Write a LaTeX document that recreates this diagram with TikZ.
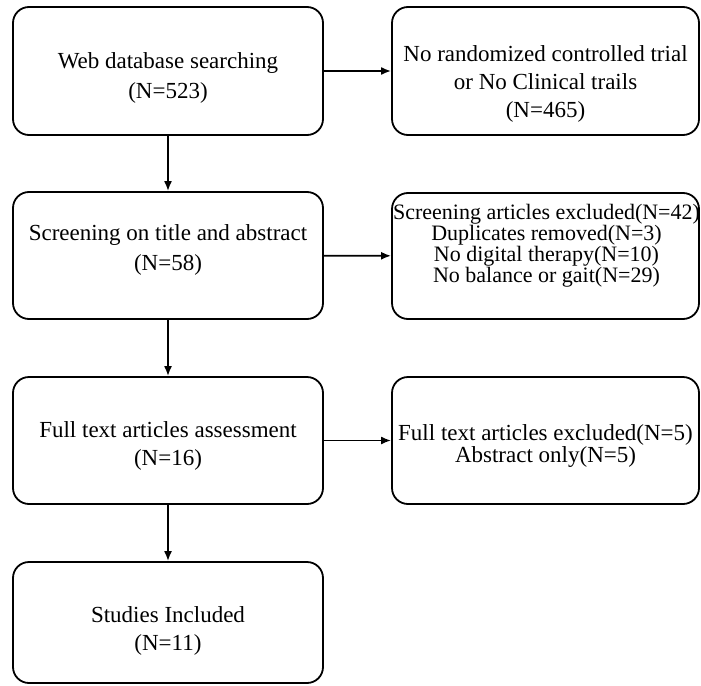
\documentclass[tikz,border=0pt]{standalone}
\usepackage{fontspec}
\setmainfont{Liberation Serif}
\usetikzlibrary{arrows.meta}

\begin{document}
\begin{tikzpicture}[
  x=1pt, y=-1pt,
  box/.style={draw, line width=1.8pt, rounded corners=16pt, inner sep=0pt},
  lbl/.style={align=center, inner sep=0pt, font=\fontsize{23}{28}\selectfont},
  arr/.style={-{Latex[length=10pt,width=8pt]}, line width=1.8pt},
]
\useasboundingbox (0,0) rectangle (701,685);

% Left column
\node[box, minimum width=310pt, minimum height=128pt] (search) at (168,71) {};
\node[lbl, font=\fontsize{23}{30}\selectfont] (searchtxt) at (168,78) {Web database searching\\(N=523)};

\node[box, minimum width=310pt, minimum height=127pt] (screen) at (168,255.5) {};
\node[lbl, font=\fontsize{23}{30}\selectfont] (screentxt) at (168,250) {Screening on title and abstract\\(N=58)};

\node[box, minimum width=310pt, minimum height=127pt] (full) at (168,440.5) {};
\node[lbl] (fulltxt) at (168,446) {Full text articles assessment\\(N=16)};

\node[box, minimum width=310pt, minimum height=121pt] (incl) at (168,622.5) {};
\node[lbl] (incltxt) at (168,631) {Studies Included\\(N=11)};

% Right column
\node[box, minimum width=307pt, minimum height=128pt] (norct) at (545.5,71) {};
\node[lbl] (norcttxt) at (545.5,84) {No randomized controlled trial\\or No Clinical trails\\(N=465)};

\node[box, minimum width=307pt, minimum height=126pt] (screenex) at (545.5,256) {};
\node[lbl, font=\fontsize{22}{21}\selectfont] (screenextxt) at (546.5,246) {Screening articles excluded(N=42)\\Duplicates removed(N=3)\\No digital therapy(N=10)\\No balance or gait(N=29)};

\node[box, minimum width=307pt, minimum height=127pt] (fullex) at (545.5,440.5) {};
\node[lbl, font=\fontsize{23}{22}\selectfont] (fullextxt) at (545.5,446) {Full text articles excluded(N=5)\\Abstract only(N=5)};

% Arrows
\draw[arr] (search) -- (screen);
\draw[arr] (screen) -- (full);
\draw[arr] (full) -- (incl);
\draw[arr] (search) -- (norct);
\draw[arr] (screen) -- (screenex);
\draw[arr] (full) -- (fullex);

\end{tikzpicture}
\end{document}
